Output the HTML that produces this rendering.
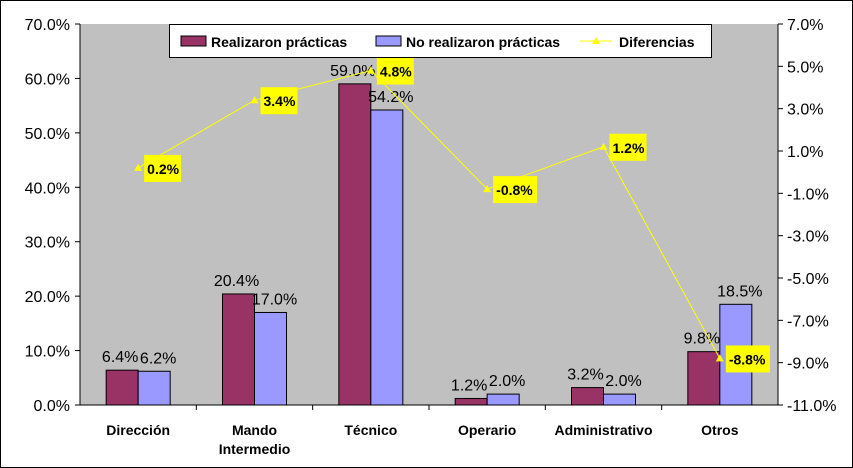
<!DOCTYPE html>
<html><head><meta charset="utf-8"><style>
body{margin:0;background:#fff}
svg{display:block;font-family:"Liberation Sans",Arial,sans-serif}
</style></head><body>
<svg id="c" width="853" height="468">
<rect x="0.5" y="0.5" width="852" height="467" fill="#fff" stroke="#000"/>
<rect x="80" y="24" width="698" height="381" fill="#c0c0c0"/>
<g id="g"></g>
</svg>
<script>
const categories=["Dirección","Mando\nIntermedio","Técnico","Operario","Administrativo","Otros"];
const realizaron=[6.4,20.4,59.0,1.2,3.2,9.8];
const noRealizaron=[6.2,17.0,54.2,2.0,2.0,18.5];
const diferencias=[0.2,3.4,4.8,-0.8,1.2,-8.8];
const leftTicks=[0,10,20,30,40,50,60,70];
const rightTicks=[-11,-9,-7,-5,-3,-1,1,3,5,7];
const L=80,R=778,T=24,B=405;
const yL=v=>B-(v/70)*(B-T);
const yR=v=>B-((v+11)/18)*(B-T);
const cw=(R-L)/categories.length;
const cx=i=>L+cw*(i+0.5);
const g=document.getElementById('g');
const NS='http://www.w3.org/2000/svg';
function mk(tag,attrs,txt){const e=document.createElementNS(NS,tag);for(const k in attrs)e.setAttribute(k,attrs[k]);if(txt!==undefined)e.textContent=txt;g.appendChild(e);return e;}
let e=mk('line',{x1:L,y1:T,x2:L,y2:B,stroke:'#000'});


e=mk('line',{x1:R,y1:T,x2:R,y2:B,stroke:'#000'});


e=mk('line',{x1:L,y1:B,x2:R,y2:B,stroke:'#000'});


leftTicks.forEach(v=>{const y=yL(v);
 mk('line',{x1:L-5,y1:y,x2:L,y2:y,stroke:'#000'});
 e=mk('text',{x:L-10,y:y+6,'text-anchor':'end','font-size':16},v.toFixed(1)+'%');
 
 });
rightTicks.forEach(v=>{const y=yR(v);
 mk('line',{x1:R,y1:y,x2:R+5,y2:y,stroke:'#000'});
 e=mk('text',{x:R+9,y:y+6,'font-size':16},v.toFixed(1)+'%');
 
 });
for(let i=1;i<categories.length;i++){const x=L+cw*i;mk('line',{x1:x,y1:B,x2:x,y2:B+5,stroke:'#000'});}
const bw=32;
categories.forEach((c,i)=>{
 const x=cx(i);
 let r=mk('rect',{x:x-bw,y:yL(realizaron[i]),width:bw,height:B-yL(realizaron[i]),fill:'#993366',stroke:'#000'});
 
 
 r=mk('rect',{x:x,y:yL(noRealizaron[i]),width:bw,height:B-yL(noRealizaron[i]),fill:'#9999ff',stroke:'#000'});
 
 
 let t=mk('text',{x:x-bw/2-2,y:yL(realizaron[i])-8,'text-anchor':'middle','font-size':16},realizaron[i].toFixed(1)+'%');
 
 
 t=mk('text',{x:x+bw/2+4,y:yL(noRealizaron[i])-8,'text-anchor':'middle','font-size':16},noRealizaron[i].toFixed(1)+'%');
 
 
 c.split('\n').forEach((ln,j)=>{t=mk('text',{x:x,y:435+j*19,'text-anchor':'middle','font-size':14,'font-weight':'bold'},ln);
 
 });
});
const pts=diferencias.map((v,i)=>cx(i)+','+yR(v)).join(' ');
e=mk('polyline',{points:pts,fill:'none',stroke:'#ffff00','stroke-width':1});


diferencias.forEach((v,i)=>{const x=cx(i),y=yR(v);
 let m=mk('polygon',{points:`${x},${y-4} ${x-4},${y+3} ${x+4},${y+3}`,fill:'#ffff00'});
 
 
 const bx=mk('rect',{x:x+6,y:y-13,width:v<0?44:37,height:27,fill:'#ffff00'});
 
 
 const t=mk('text',{x:x+9,y:y+6,'font-size':14,'font-weight':'bold'},v.toFixed(1)+'%');
 
 });
e=mk('rect',{x:169.5,y:24.5,width:542,height:33,fill:'#fff',stroke:'#000'});


e=mk('rect',{x:181,y:36,width:25,height:10,fill:'#993366',stroke:'#000'});


e=mk('text',{x:211,y:47,'font-size':14,'font-weight':'bold'},'Realizaron prácticas');


e=mk('rect',{x:376,y:36,width:25,height:10,fill:'#9999ff',stroke:'#000'});


e=mk('text',{x:406,y:47,'font-size':14,'font-weight':'bold'},'No realizaron prácticas');


e=mk('line',{x1:580,y1:41,x2:612,y2:41,stroke:'#ffff00'});
e=mk('polygon',{points:'596,37 592,44 600,44',fill:'#ffff00'});


e=mk('text',{x:619,y:47,'font-size':14,'font-weight':'bold'},'Diferencias');


</script>
</body></html>
